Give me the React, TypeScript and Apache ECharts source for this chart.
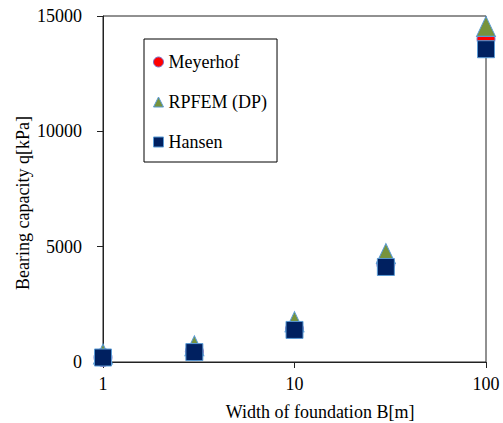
import React, { useEffect, useRef } from "react";
import * as echarts from "echarts";

const widths = [1, 3, 10, 30, 100];
const meyerhof = [200, 450, 1420, 4250, 14000];
const rpfem = [350, 700, 1750, 4700, 14550];
const hansen = [195, 430, 1390, 4120, 13560];
const seriesNames = ["Meyerhof", "RPFEM (DP)", "Hansen"];
const xTitle = "Width of foundation B[m]";
const yTitle = "Bearing capacity q[kPa]";

const FONT = "Liberation Serif";

export default function App() {
  const ref = useRef<HTMLDivElement>(null);
  useEffect(() => {
    document.body.style.margin = "0";
    if (!ref.current) return;
    const chart = echarts.init(ref.current, undefined, { renderer: "svg" });
    const pair = (ys: number[]) => widths.map((x, i) => [x, ys[i]]);
    const border = { borderColor: "#5B9BD5", borderWidth: 1, opacity: 1 };
    chart.setOption({
      animation: false,
      backgroundColor: "#fff",
      textStyle: { fontFamily: FONT },
      grid: {
        left: 103,
        right: 17,
        top: 16,
        bottom: 61,
        show: true,
        borderColor: "#222",
        borderWidth: 1,
        backgroundColor: "transparent",
      },
      legend: {
        orient: "vertical",
        left: 144,
        top: 39,
        padding: [14, 10, 11, 9],
        itemGap: 22,
        itemWidth: 10,
        itemHeight: 10,
        itemStyle: { borderWidth: 1 },
        borderColor: "#000",
        borderWidth: 1,
        backgroundColor: "#fff",
        textStyle: { fontFamily: FONT, fontSize: 18, color: "#000" },
        data: [
          { name: seriesNames[0], icon: "circle" },
          { name: seriesNames[1], icon: "triangle" },
          { name: seriesNames[2], icon: "rect" },
        ],
      },
      xAxis: {
        type: "log",
        logBase: 10,
        min: 1,
        max: 100,
        axisLine: { show: true, lineStyle: { color: "#222", width: 1 } },
        axisTick: { show: true, inside: false, length: 6, lineStyle: { color: "#222" } },
        minorTick: { show: false },
        splitLine: { show: false },
        axisLabel: { color: "#000", fontFamily: FONT, fontSize: 18, margin: 13, formatter: (v: number) => String(v) },
      },
      yAxis: {
        type: "value",
        min: 0,
        max: 15000,
        interval: 5000,
        axisLine: { show: true, lineStyle: { color: "#222", width: 1 } },
        axisTick: { show: true, inside: false, length: 6, lineStyle: { color: "#222" } },
        splitLine: { show: false },
        axisLabel: { color: "#000", fontFamily: FONT, fontSize: 18, margin: 21, formatter: (v: number) => String(v) },
      },
      graphic: [
        {
          type: "text",
          x: 320,
          y: 412,
          style: {
            text: xTitle,
            fontFamily: FONT,
            fontSize: 18,
            fill: "#000",
            textAlign: "center",
            textVerticalAlign: "middle",
          },
        },
        {
          type: "text",
          x: 23,
          y: 203,
          rotation: Math.PI / 2,
          style: {
            text: yTitle,
            fontFamily: FONT,
            fontSize: 18,
            fill: "#000",
            textAlign: "center",
            textVerticalAlign: "middle",
          },
        },
      ],
      series: [
        {
          name: seriesNames[0],
          type: "scatter",
          symbol: "circle",
          symbolSize: 18,
          data: pair(meyerhof),
          itemStyle: { color: "#FF0000", borderColor: "#7B6FC8", borderWidth: 1, opacity: 1 },
          z: 2,
        },
        {
          name: seriesNames[1],
          type: "scatter",
          symbol: "triangle",
          symbolSize: [19, 20],
          data: pair(rpfem),
          itemStyle: { color: "#77933C", ...border },
          z: 3,
        },
        {
          name: seriesNames[2],
          type: "scatter",
          symbol: "rect",
          symbolSize: 17,
          data: pair(hansen),
          itemStyle: { color: "#002060", ...border },
          z: 4,
        },
      ],
    });
    return () => chart.dispose();
  }, []);
  return <div ref={ref} style={{ width: 503, height: 423 }} />;
}
